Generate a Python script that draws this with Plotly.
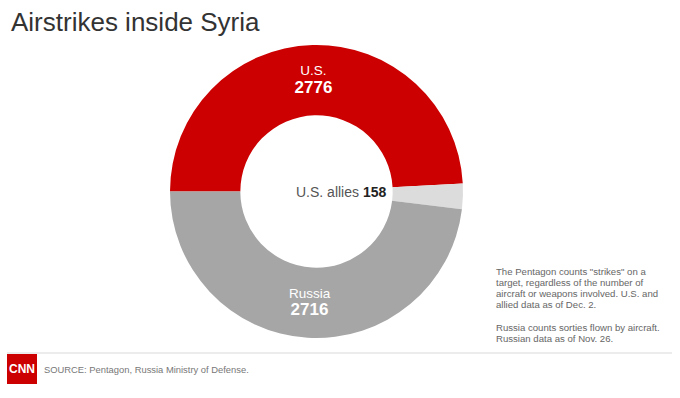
import plotly.graph_objects as go

# ---- data ----
labels = ["U.S.", "U.S. allies", "Russia"]
values = [2776, 158, 2716]
colors = ["#cc0000", "#dcdcdc", "#a6a6a6"]
title_text = "Airstrikes inside Syria"
note_lines = [
    "The Pentagon counts \"strikes\" on a",
    "target, regardless of the number of",
    "aircraft or weapons involved. U.S. and",
    "allied data as of Dec. 2.",
    "",
    "Russia counts sorties flown by aircraft.",
    "Russian data as of Nov. 26.",
]
source_text = "SOURCE: Pentagon, Russia Ministry of Defense."
logo_text = "CNN"

W, H = 680, 398
FONT = "Liberation Sans"

def px(x):
    return x / W

def py(y):
    return 1 - y / H

# donut geometry (pixels)
cx, cy, R = 316.5, 191.5, 146.5

texttemplate = ("<span style='font-size:13.5px'>%{label}</span><br>"
                "<span style='font-size:17px;font-weight:bold'>%{value}</span>")

fig = go.Figure()
fig.add_trace(go.Pie(
    labels=labels,
    values=values,
    marker=dict(colors=colors, line=dict(width=0)),
    hole=0.52,
    sort=False,
    direction="clockwise",
    rotation=270,
    texttemplate=[texttemplate, "", texttemplate],
    textposition=["inside", "none", "inside"],
    insidetextorientation="horizontal",
    textfont=dict(family=FONT, size=13.5, color="white"),
    showlegend=False,
    hoverinfo="label+value",
    domain=dict(x=[px(cx - R), px(cx + R)], y=[py(cy + R), py(cy - R)]),
))

annotations = []
# title
annotations.append(dict(
    x=px(9), y=py(22), xref="paper", yref="paper", xanchor="left", yanchor="middle",
    text=title_text, showarrow=False,
    font=dict(family=FONT, size=26, color="#333333"),
))
# allies label in the hole
annotations.append(dict(
    x=px(388), y=py(192), xref="paper", yref="paper", xanchor="right", yanchor="middle",
    text=f"{labels[1]} <b style='color:#222222'>{values[1]}</b>", showarrow=False,
    font=dict(family=FONT, size=14, color="#555555"),
))
# notes
note_y0 = 271
for i, line in enumerate(note_lines):
    if not line:
        continue
    y = note_y0 + i * 11.2
    annotations.append(dict(
        x=px(494), y=py(y), xref="paper", yref="paper", xanchor="left", yanchor="middle",
        text=line, showarrow=False,
        font=dict(family=FONT, size=9.6, color="#666666"),
    ))
# source
annotations.append(dict(
    x=px(42), y=py(369.5), xref="paper", yref="paper", xanchor="left", yanchor="middle",
    text=source_text, showarrow=False,
    font=dict(family=FONT, size=9.4, color="#777777"),
))
# logo text
annotations.append(dict(
    x=px(22), y=py(369), xref="paper", yref="paper", xanchor="center", yanchor="middle",
    text=f"<b>{logo_text}</b>", showarrow=False,
    font=dict(family="Liberation Sans Narrow, " + FONT, size=12, color="white"),
))

shapes = [
    dict(type="line", xref="paper", yref="paper",
         x0=px(7), x1=px(672), y0=py(353), y1=py(353),
         line=dict(color="#e6e6e6", width=1.5)),
    dict(type="rect", xref="paper", yref="paper",
         x0=px(7), x1=px(37), y0=py(384), y1=py(354),
         fillcolor="#cc0000", line=dict(width=0)),
]

fig.update_layout(
    width=W, height=H,
    margin=dict(l=0, r=0, t=0, b=0),
    paper_bgcolor="white",
    plot_bgcolor="white",
    annotations=annotations,
    shapes=shapes,
)

fig.write_html(
    "out.html",
    config={"displayModeBar": False},
    post_script="document.body.style.margin='0';document.body.style.overflow='hidden';",
)
